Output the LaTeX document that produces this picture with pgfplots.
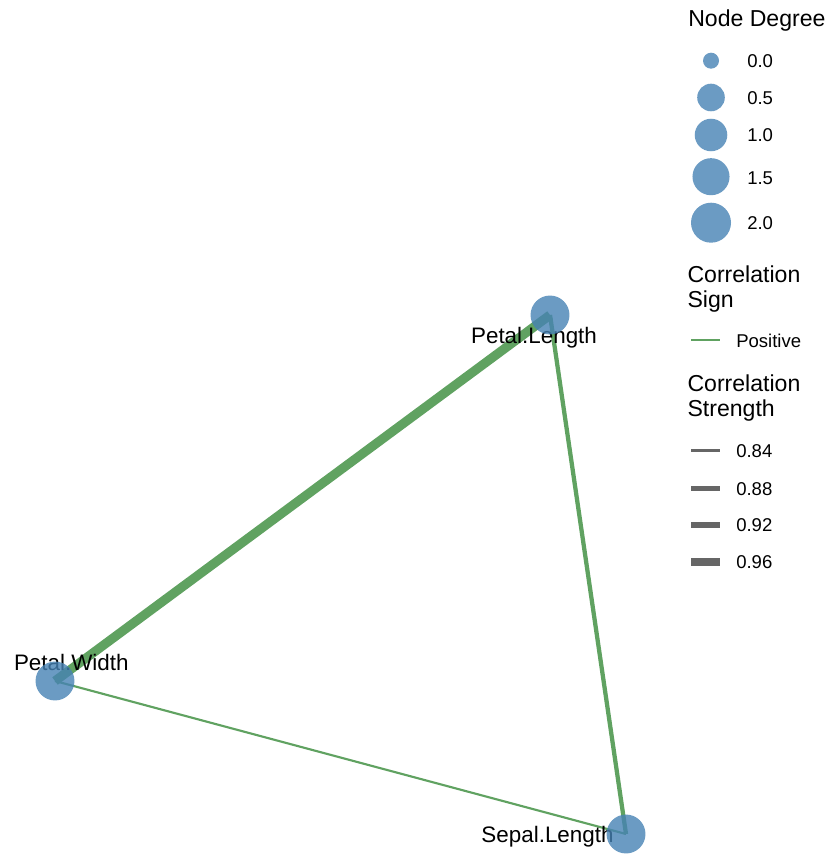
\documentclass[border=0pt]{standalone}
\usepackage{pgfplots}
\pgfplotsset{compat=1.18}
\usepackage{fontspec}
\setmainfont{Liberation Sans}
\definecolor{nodeblue}{RGB}{70,130,180}
\definecolor{edgegreen}{RGB}{96,162,97}
\definecolor{keygray}{RGB}{102,102,102}
\newcommand{\nodefont}{\fontsize{16.8pt}{20pt}\selectfont}
\newcommand{\titlefont}{\fontsize{17.3pt}{21pt}\selectfont}
\newcommand{\keyfont}{\fontsize{13.9pt}{17pt}\selectfont}
\pgfplotsset{nodemark/.style={nodeblue, only marks, mark=*,
  mark options={fill=nodeblue, draw opacity=0, fill opacity=0.8}}}
\begin{document}
\begin{tikzpicture}
\begin{axis}[
  width=627pt, height=641.25pt, scale only axis,
  xmin=0, xmax=836, ymin=0, ymax=855, y dir=reverse,
  hide axis, clip=false,
]
% edges, width scaled by correlation strength
\addplot[edgegreen, line width=6.9pt] coordinates {(55,681) (550,315)};  % Petal.Width -- Petal.Length, r = 0.963
\addplot[edgegreen, line width=3.2pt] coordinates {(550,315) (626,834)}; % Petal.Length -- Sepal.Length, r = 0.872
\addplot[edgegreen, line width=1.6pt] coordinates {(55,681) (626,834)};  % Petal.Width -- Sepal.Length, r = 0.818

% nodes (degree 2 each)
\addplot[nodemark, mark size=14.6pt] coordinates {(550,315) (55,681) (626,834)};

\node[font=\nodefont, anchor=base] at (axis cs:534,343) {Petal.Length};
\node[font=\nodefont, anchor=base] at (axis cs:71.3,670) {Petal.Width};
\node[font=\nodefont, anchor=base] at (axis cs:547.5,842) {Sepal.Length};

% legend: node degree
\node[font=\titlefont, anchor=base west, inner sep=0pt] at (axis cs:688,26.7) {Node Degree};
\addplot[nodemark, mark size=6pt] coordinates {(711,60.7)};
\addplot[nodemark, mark size=10.35pt] coordinates {(711,97.5)};
\addplot[nodemark, mark size=12.2pt] coordinates {(711,135)};
\addplot[nodemark, mark size=13.9pt] coordinates {(711,176.7)};
\addplot[nodemark, mark size=15pt] coordinates {(711,222.7)};
\node[font=\keyfont, anchor=base west, inner sep=0pt] at (axis cs:747,67.7) {0.0};
\node[font=\keyfont, anchor=base west, inner sep=0pt] at (axis cs:747,104.3) {0.5};
\node[font=\keyfont, anchor=base west, inner sep=0pt] at (axis cs:747,141.7) {1.0};
\node[font=\keyfont, anchor=base west, inner sep=0pt] at (axis cs:747,184.3) {1.5};
\node[font=\keyfont, anchor=base west, inner sep=0pt] at (axis cs:747,230) {2.0};

% legend: correlation sign
\node[font=\titlefont, anchor=base west, inner sep=0pt] at (axis cs:687.3,282.5) {Correlation};
\node[font=\titlefont, anchor=base west, inner sep=0pt] at (axis cs:687.3,307) {Sign};
\addplot[edgegreen, line width=1.5pt] coordinates {(691,340) (720,340)};
\node[font=\keyfont, anchor=base west, inner sep=0pt] at (axis cs:736,347.3) {Positive};

% legend: correlation strength
\node[font=\titlefont, anchor=base west, inner sep=0pt] at (axis cs:687.3,391.7) {Correlation};
\node[font=\titlefont, anchor=base west, inner sep=0pt] at (axis cs:687.3,416.7) {Strength};
\addplot[keygray, line width=2.5pt] coordinates {(691,450.7) (720,450.7)};
\addplot[keygray, line width=3.75pt] coordinates {(691,488.3) (720,488.3)};
\addplot[keygray, line width=5pt] coordinates {(691,525) (720,525)};
\addplot[keygray, line width=6.2pt] coordinates {(691,561.7) (720,561.7)};
\node[font=\keyfont, anchor=base west, inner sep=0pt] at (axis cs:736,457.3) {0.84};
\node[font=\keyfont, anchor=base west, inner sep=0pt] at (axis cs:736,495) {0.88};
\node[font=\keyfont, anchor=base west, inner sep=0pt] at (axis cs:736,531.7) {0.92};
\node[font=\keyfont, anchor=base west, inner sep=0pt] at (axis cs:736,568.3) {0.96};
\end{axis}
\pgfresetboundingbox
\useasboundingbox (current axis.south west) rectangle (current axis.north east);
\end{tikzpicture}
\end{document}
